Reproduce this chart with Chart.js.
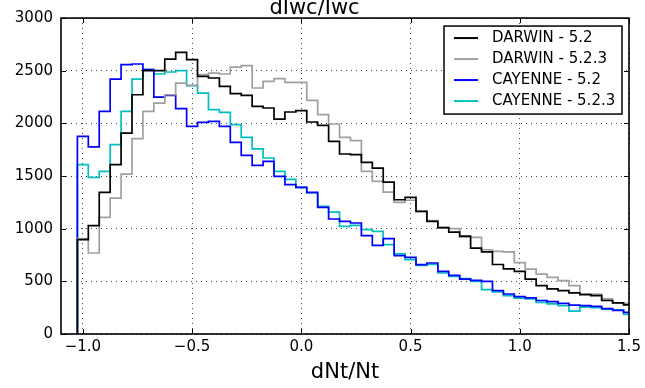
<!DOCTYPE html>
<html>
<head>
<meta charset="utf-8">
<script src="https://cdn.jsdelivr.net/npm/chart.js@4/dist/chart.umd.min.js"></script>
<style>
  html, body { margin: 0; padding: 0; background: #fff; overflow: hidden; }
  #wrap { position: relative; width: 645px; height: 388px; }
</style>
</head>
<body>
<div id="wrap"><canvas id="histChart"></canvas></div>
<script>
// Step histograms of dNt/Nt, 0.05 wide bins starting at -1.025
const BIN_START = -1.025;
const BIN_WIDTH = 0.05;

const seriesLabels = ['DARWIN - 5.2', 'DARWIN - 5.2.3', 'CAYENNE - 5.2', 'CAYENNE - 5.2.3'];
const seriesColors = ['#000000', '#a0a0a0', '#0000ff', '#00bfbf'];

const darwin52 = [896, 1029, 1345, 1608, 1908, 2272, 2500, 2500, 2611, 2674, 2605, 2447, 2431, 2352, 2282, 2266,
    2162, 2146, 2041, 2108, 2121, 2013, 1981, 1829, 1709, 1703, 1630, 1576, 1443, 1275, 1298, 1165, 1070, 1010,
    968, 930, 815, 780, 660, 618, 595, 522, 459, 428, 412, 390, 374, 365, 318, 296, 277];
const darwin523 = [905, 769, 1108, 1291, 1519, 1855, 2114, 2193, 2272, 2383, 2361, 2462, 2478, 2469, 2535, 2548,
    2336, 2399, 2424, 2390, 2390, 2219, 2083, 1994, 1867, 1836, 1545, 1450, 1348, 1250, 1270, 1165, 1076, 1010,
    1000, 920, 918, 800, 785, 780, 677, 616, 569, 538, 506, 459, 380, 378, 333, 296, 290];
const cayenne52 = [1877, 1776, 2114, 2421, 2557, 2564, 2510, 2250, 2266, 2140, 1972, 2010, 2019, 1972, 1820, 1696,
    1601, 1639, 1497, 1418, 1393, 1345, 1203, 1092, 1070, 1054, 935, 842, 905, 745, 728, 658, 674, 595,
    557, 522, 510, 500, 411, 380, 355, 343, 318, 308, 290, 275, 270, 262, 240, 225, 205];
const cayenne523 = [1608, 1488, 1545, 1798, 2114, 2421, 2510, 2469, 2488, 2500, 2358, 2288, 2130, 2105, 1988, 1867,
    1757, 1671, 1545, 1468, 1393, 1339, 1212, 1158, 1022, 1032, 991, 975, 848, 760, 706, 652, 660, 579,
    548, 525, 500, 421, 399, 365, 340, 333, 300, 286, 270, 218, 255, 250, 235, 230, 186];

const xTicks = [-1.0, -0.5, 0.0, 0.5, 1.0, 1.5];
const yTicks = [0, 500, 1000, 1500, 2000, 2500, 3000];

const FONT = 'DejaVu Sans';

// turn bin counts into the outline matplotlib draws for histtype='step'
function stepPoints(counts) {
    const pts = [{ x: BIN_START, y: 0 }];
    counts.forEach(function (c, i) {
        pts.push({ x: BIN_START + i * BIN_WIDTH, y: c });
    });
    const end = BIN_START + counts.length * BIN_WIDTH;
    pts.push({ x: end, y: counts[counts.length - 1] });
    pts.push({ x: end, y: 0 });
    return pts;
}

function fmtTick(v) {
    return v.toFixed(1).replace('-', '\u2212');
}

// inward ticks on all four sides, the box frame, and the legend inside the axes
const axesDecor = {
    id: 'axesDecor',
    afterDraw(chart) {
        const ctx = chart.ctx;
        const a = chart.chartArea;
        const xs = chart.scales.x, ys = chart.scales.y;
        ctx.save();
        ctx.strokeStyle = '#000';
        ctx.lineWidth = 1;
        ctx.beginPath();
        xTicks.forEach(function (v) {
            const px = Math.round(xs.getPixelForValue(v)) + 0.5;
            ctx.moveTo(px, a.bottom); ctx.lineTo(px, a.bottom - 5);
            ctx.moveTo(px, a.top); ctx.lineTo(px, a.top + 5);
        });
        yTicks.forEach(function (v) {
            const py = Math.round(ys.getPixelForValue(v)) + 0.5;
            ctx.moveTo(a.left, py); ctx.lineTo(a.left + 5, py);
            ctx.moveTo(a.right, py); ctx.lineTo(a.right - 5, py);
        });
        ctx.stroke();

        ctx.lineWidth = 1.6;
        ctx.strokeRect(a.left, a.top, a.right - a.left, a.bottom - a.top);

        // legend box
        const boxW = 178, rowH = 21;
        const boxH = rowH * seriesLabels.length + 4;
        const bx = a.right - 7 - boxW, by = a.top + 8;
        ctx.fillStyle = '#fff';
        ctx.fillRect(bx, by, boxW, boxH);
        ctx.lineWidth = 1.5;
        ctx.strokeStyle = '#000';
        ctx.strokeRect(bx, by, boxW, boxH);
        ctx.font = '15px "' + FONT + '"';
        ctx.textBaseline = 'middle';
        ctx.textAlign = 'left';
        chart.data.datasets.forEach(function (ds, i) {
            const cy = by + 12 + i * rowH;
            ctx.strokeStyle = ds.borderColor;
            ctx.lineWidth = 2;
            ctx.beginPath();
            ctx.moveTo(bx + 10, cy); ctx.lineTo(bx + 34, cy);
            ctx.stroke();
            ctx.fillStyle = '#000';
            ctx.fillText(ds.label, bx + 48, cy);
        });
        ctx.restore();
    }
};

const allCounts = [darwin52, darwin523, cayenne52, cayenne523];

new Chart(document.getElementById('histChart'), {
    type: 'line',
    data: {
        datasets: allCounts.map(function (counts, i) {
            return {
                label: seriesLabels[i],
                data: stepPoints(counts),
                borderColor: seriesColors[i],
                borderWidth: 1.7,
                stepped: 'before',
                pointRadius: 0,
                fill: false
            };
        })
    },
    options: {
        responsive: true,
        maintainAspectRatio: false,
        animation: false,
        layout: { padding: { right: 16, left: 0, top: 0, bottom: 0 } },
        plugins: {
            legend: { display: false },
            tooltip: { enabled: false },
            title: {
                display: true,
                text: 'dIwc/Iwc',
                color: '#000',
                font: { family: FONT, size: 21, weight: 'normal', lineHeight: 0.86 },
                padding: 0
            }
        },
        scales: {
            x: {
                type: 'linear',
                min: -1.1,
                max: 1.5,
                afterBuildTicks: function (axis) { axis.ticks = xTicks.map(function (v) { return { value: v }; }); },
                afterFit: function (axis) { axis.height = 54; },
                ticks: {
                    color: '#000',
                    padding: 4,
                    maxRotation: 0,
                    font: { family: FONT, size: 15 },
                    callback: function (v) { return fmtTick(v); }
                },
                grid: { color: '#444', lineWidth: 1, drawTicks: false },
                border: { display: false, dash: [1, 4] },
                title: {
                    display: true,
                    text: 'dNt/Nt',
                    color: '#000',
                    font: { family: FONT, size: 21 },
                    padding: { top: 0, bottom: 3 }
                }
            },
            y: {
                min: 0,
                max: 3000,
                afterBuildTicks: function (axis) { axis.ticks = yTicks.map(function (v) { return { value: v }; }); },
                afterFit: function (axis) { axis.width = 61; },
                ticks: {
                    color: '#000',
                    padding: 8,
                    font: { family: FONT, size: 15 },
                    callback: function (v) { return String(v); }
                },
                grid: { color: '#444', lineWidth: 1, drawTicks: false },
                border: { display: false, dash: [1, 4] }
            }
        }
    },
    plugins: [axesDecor]
});
</script>
</body>
</html>
